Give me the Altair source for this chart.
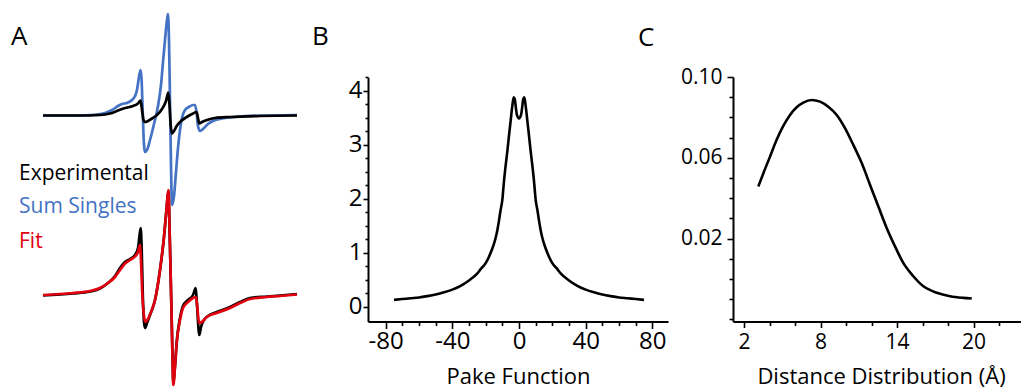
import altair as alt
import pandas as pd

# ---------------- Panel A: EPR spectra (arbitrary field / signal units) ----------------
sum_top_field = [0, 27, 47, 62, 69, 75, 79, 84, 89, 92, 94, 95.5, 97.5, 98.5, 99.5, 100.5, 102, 104, 107, 111,
                 115, 118, 120, 122, 124, 125, 126, 127, 128, 129, 131, 133, 135, 137, 139, 142, 146, 150, 152,
                 153.5, 155, 157, 161, 165, 170, 177, 187, 202, 227, 254]
sum_top_signal = [-0.5, -0.5, 0, 2, 5, 9, 11, 12, 15, 19, 25, 35, 45, 37, 10, -20, -37, -35, -25, -9,
                  9, 30, 53, 75, 95, 101, 75, 15, -50, -90, -81, -57, -33, -15, -3, 5, 8, 10, 10,
                  3, -11, -16, -13, -9, -6, -4, -2.5, -1, -0.5, 0]

exp_top_field = [0, 37, 57, 67, 75, 82, 90, 95, 97.5, 99, 100.5, 102, 105, 109, 114, 119, 123, 125.3, 126.5,
                 127.7, 128.8, 131, 134, 138, 143, 149, 153.7, 155, 156.3, 159, 164, 172, 187, 217, 254]
exp_top_signal = [-0.5, -0.5, 0, 1.5, 4.5, 7, 9, 11.5, 14.5, 5, -5, -7, -6, -3.5, 0, 6, 14, 22.5, 10,
                  -10, -18.5, -16, -10.5, -6, -2.5, 1, 3, -3, -8.5, -7, -5, -3, -2, -1, -0.5]

exp_bot_field = [0, 30, 47, 57, 65, 72, 77, 82, 87, 92, 95, 96.5, 97.7, 98.7, 99.8, 101, 102, 104, 107, 112,
                 117, 121, 123.7, 125.3, 127, 128.7, 129.7, 130.3, 132, 133.7, 137, 140, 145, 150, 152.7,
                 154, 156.3, 158, 161, 165, 173.7, 187, 197, 207, 223.7, 237, 254]
exp_bot_signal = [-180.5, -178.5, -176.5, -173.5, -168, -161, -153, -147, -144, -140, -133, -121, -113, -135,
                  -180, -207, -213, -208, -200, -185, -155, -122, -92, -76, -132, -205, -250, -267, -251,
                  -227, -203, -191, -185, -180, -173, -190, -220, -212, -205, -201, -197, -192, -187, -183,
                  -181.5, -180.5, -179]

fit_bot_field = [0, 30, 47, 57, 65, 72, 77, 82, 87, 92, 95, 97, 98, 99, 100.5, 102.5, 105, 108, 112, 117,
                 121, 123.7, 125.3, 127, 128.7, 129.7, 130.3, 132, 133.7, 137, 140, 145, 150, 153, 154.3,
                 156, 158.7, 163.7, 173.7, 187, 197, 207, 223.7, 237, 254]
fit_bot_signal = [-180, -178, -176, -173, -168, -162, -155, -148.5, -145, -141.5, -137, -130, -145, -172,
                  -197, -207, -204, -197, -185, -155, -122, -92, -75, -132, -205, -252, -270, -252, -228,
                  -205, -193, -187, -183, -182, -192, -208, -207, -202, -198, -193, -188, -184, -182, -181,
                  -179.5]

# ---------------- Panel B: Pake function ----------------
pake_shift = [-75, -70, -65, -60, -55, -50, -45, -40, -35, -30, -25, -23, -20, -18, -16, -15, -14, -13, -12,
              -11, -10, -9, -8, -7, -6, -5, -4, -3.2, -2.5, -2, -1.2, 0,
              1.2, 2, 2.5, 3.2, 4, 5, 6, 7, 8, 9, 10, 11, 12, 13, 14, 15, 16, 18, 20, 23, 25, 30, 35, 40,
              45, 50, 55, 60, 65, 70, 75]
pake_amp = [0.13, 0.145, 0.16, 0.175, 0.20, 0.23, 0.27, 0.32, 0.39, 0.49, 0.62, 0.70, 0.81, 0.93, 1.08,
            1.17, 1.28, 1.42, 1.60, 1.80, 1.98, 2.33, 2.62, 2.88, 3.17, 3.45, 3.72, 3.88, 3.84, 3.72, 3.55,
            3.49,
            3.55, 3.72, 3.84, 3.88, 3.72, 3.45, 3.17, 2.88, 2.62, 2.33, 1.98, 1.80, 1.60, 1.42, 1.28, 1.17,
            1.08, 0.93, 0.81, 0.70, 0.62, 0.49, 0.39, 0.32, 0.27, 0.23, 0.20, 0.175, 0.16, 0.145, 0.13]
pake_x_ticks = [-80, -70, -60, -50, -40, -30, -20, -10, 0, 10, 20, 30, 40, 50, 60, 70, 80]
pake_x_labels = [-80, -40, 0, 40, 80]
pake_y_ticks = [0, 0.25, 0.5, 0.75, 1, 1.25, 1.5, 1.75, 2, 2.25, 2.5, 2.75, 3, 3.25, 3.5, 3.75, 4, 4.25]

# ---------------- Panel C: distance distribution ----------------
dist_r = [3.12, 3.52, 4.04, 4.56, 5.08, 5.61, 6.13, 6.65, 7.31, 7.96, 8.61, 9.27, 9.92, 10.57, 11.23,
          11.88, 12.53, 13.19, 13.84, 14.49, 15.28, 16.07, 17.12, 18.16, 19.2, 19.86]
dist_p = [0.0458, 0.0524, 0.0606, 0.0689, 0.0758, 0.0812, 0.085, 0.0873, 0.0886, 0.0878, 0.0853, 0.0812,
          0.0747, 0.0664, 0.0574, 0.0467, 0.036, 0.0253, 0.0162, 0.008, 0.0014, -0.0036, -0.0068, -0.0085,
          -0.0093, -0.0096]
dist_x_ticks = [2, 4, 6, 8, 10, 12, 14, 16, 18, 20, 22, 24]
dist_y_ticks = [-0.02, -0.01, 0.0, 0.01, 0.02, 0.03, 0.04, 0.05, 0.06, 0.07, 0.08, 0.09, 0.10]

FONT = "Open Sans"
BLUE = "#4472c4"
RED = "#e0000e"
W, H = 1013, 382

xa = alt.Scale(domain=[0, 254], range=[35, 289], nice=False, zero=False)
ya = alt.Scale(domain=[-300, 100], range=[407, 7], nice=False, zero=False)


def a_line(xs, ys, color):
    df = pd.DataFrame({"field": xs, "signal": ys})
    return alt.Chart(df).mark_line(color=color, strokeWidth=2.7, interpolate="monotone").encode(
        x=alt.X("field:Q", scale=xa, axis=None),
        y=alt.Y("signal:Q", scale=ya, axis=None),
    )


axis_common = dict(
    domainColor="black", domainWidth=2, tickColor="black", tickWidth=1.6, grid=False,
    labelFont=FONT, labelColor="black", labelFlush=False, labelOverlap=False,
    titleFont=FONT, titleFontSize=22, titleFontWeight="normal", titleColor="black",
)

df_b = pd.DataFrame({"shift": pake_shift, "amp": pake_amp})
pake = alt.Chart(df_b).mark_line(color="black", strokeWidth=2.6, interpolate="monotone").encode(
    x=alt.X("shift:Q",
            scale=alt.Scale(domain=[-90.6, 89.4], range=[360, 660], nice=False, zero=False),
            axis=alt.Axis(orient="bottom", offset=313.5 - H, values=pake_x_ticks,
                          labelExpr="indexof(%s, datum.value) >= 0 ? '' + datum.value : ''" % pake_x_labels,
                          tickSize={"condition": {"test": "indexof(%s, datum.value) >= 0" % pake_x_labels, "value": 7}, "value": 4},
                          labelFontSize=24, labelPadding=1, title="Pake Function",
                          titleBaseline="alphabetic", titleY=61.5, **axis_common)),
    y=alt.Y("amp:Q",
            scale=alt.Scale(domain=[-0.27, 4.25], range=[313.5, 69.3], nice=False, zero=False),
            axis=alt.Axis(orient="left", offset=-360, values=pake_y_ticks,
                          labelExpr="datum.value % 1 === 0 ? '' + datum.value : ''",
                          tickSize={"condition": {"test": "datum.value % 1 === 0", "value": 5}, "value": 3},
                          labelFontSize=24, labelPadding=1, title=None, **axis_common)),
)

df_c = pd.DataFrame({"r": dist_r, "p": dist_p})
dist = alt.Chart(df_c).mark_line(color="black", strokeWidth=2.6, interpolate="monotone").encode(
    x=alt.X("r:Q",
            scale=alt.Scale(domain=[1.137, 24.35], range=[725, 1021], nice=False, zero=False),
            axis=alt.Axis(orient="bottom", offset=313.5 - H, values=dist_x_ticks,
                          labelExpr="(datum.value - 2) % 6 === 0 ? '' + datum.value : ''",
                          tickSize={"condition": {"test": "(datum.value - 2) % 6 === 0", "value": 6}, "value": 4},
                          labelFontSize=21, labelPadding=4, title="Distance Distribution (Å)",
                          titleBaseline="alphabetic", titleY=61.5, **axis_common)),
    y=alt.Y("p:Q",
            scale=alt.Scale(domain=[-0.021, 0.10], range=[313.5, 69], nice=False, zero=False),
            axis=alt.Axis(orient="left", offset=-725, values=dist_y_ticks,
                          labelExpr="indexof([2, 6, 10], round(datum.value * 100)) >= 0 ? format(datum.value, '.2f') : ''",
                          tickSize={"condition": {"test": "indexof([2, 6, 10], round(datum.value * 100)) >= 0", "value": 6}, "value": 4},
                          labelFontSize=21, labelPadding=5, title=None, **axis_common)),
)


def label(text, x, y, size, color="black"):
    return alt.Chart(alt.Data(values=[{}])).mark_text(
        text=text, font=FONT, fontSize=size, color=color, align="left", baseline="alphabetic"
    ).encode(x=alt.value(x), y=alt.value(y))


chart = alt.layer(
    a_line(sum_top_field, sum_top_signal, BLUE),
    a_line(exp_top_field, exp_top_signal, "black"),
    a_line(exp_bot_field, exp_bot_signal, "black"),
    a_line(fit_bot_field, fit_bot_signal, RED),
    pake,
    dist,
    label("A", 3, 37, 26),
    label("B", 304, 37, 26),
    label("C", 630, 38, 26),
    label("Experimental", 11, 172, 21),
    label("Sum Singles", 11, 205, 21, BLUE),
    label("Fit", 11, 240, 21, RED),
).resolve_scale(
    x="independent", y="independent"
).resolve_axis(
    x="independent", y="independent"
).properties(
    width=W, height=H, padding=0, autosize=alt.AutoSizeParams(type="none"), background="white"
).configure_view(stroke=None)

chart.save("out.html", embed_options={"renderer": "svg", "actions": False})
